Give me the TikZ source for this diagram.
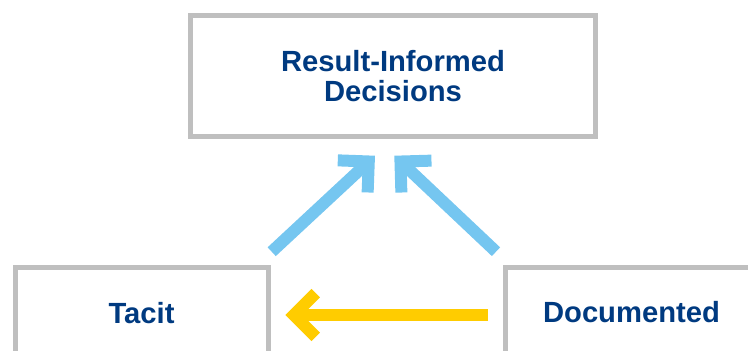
\documentclass[tikz,border=0pt]{standalone}
\usepackage{fontspec}
\setmainfont{Liberation Sans}
\usetikzlibrary{calc}
\definecolor{boxgray}{RGB}{191,191,191}
\definecolor{txtblue}{RGB}{0,58,128}
\definecolor{arrblue}{RGB}{117,198,240}
\definecolor{arryellow}{RGB}{255,204,0}
\tikzset{
  box/.style={draw=boxgray, line width=5pt, rectangle, inner sep=0pt},
  lbl/.style={text=txtblue, font=\fontsize{29.2}{30}\selectfont\bfseries, anchor=base, inner sep=0pt},
  shaft/.style={line width=12pt},
  chev/.style={line width=12pt, miter limit=10, line join=miter},
}
\newcommand\fatarrow[3]{%
  \coordinate (#2-c) at ($(#3)!8.5pt!(#2)$);
  \draw[shaft, #1] (#2) -- (#2-c);
  \draw[chev, #1] ($(#2-c)!31pt!45:(#2)$) -- (#2-c) -- ($(#2-c)!31pt!-45:(#2)$);
}
\begin{document}
\begin{tikzpicture}[x=1pt,y=-1pt]
  \useasboundingbox (0,0) rectangle (748,351);
  \clip (0,0) rectangle (748,351);
  % boxes
  \node[box, minimum width=405pt, minimum height=121pt] (top) at (393,76) {};
  \node[box, minimum width=253pt, minimum height=152.5pt] (tacit) at (141.5,343.75) {};
  \node[box, minimum width=295pt, minimum height=152.5pt] (doc) at (652.5,343.75) {};
  % labels
  \node[lbl] (t1) at (393,71.5) {Result-Informed};
  \node[lbl] (t2) at (393,101.5) {Decisions};
  \node[lbl] (tacitlbl) at (141.5,323) {Tacit};
  \node[lbl] (doclbl) at (631.5,322) {Documented};
  % arrow end points
  \coordinate (ls) at (271.7,251.7);
  \coordinate (lt) at (375,155.7);
  \coordinate (rs) at (496,251.7);
  \coordinate (rt) at (394.3,155.7);
  \coordinate (ys) at (488,315);
  \coordinate (yt) at (285.3,315);
  \fatarrow{arrblue}{ls}{lt}
  \fatarrow{arrblue}{rs}{rt}
  \fatarrow{arryellow}{ys}{yt}
\end{tikzpicture}
\end{document}
